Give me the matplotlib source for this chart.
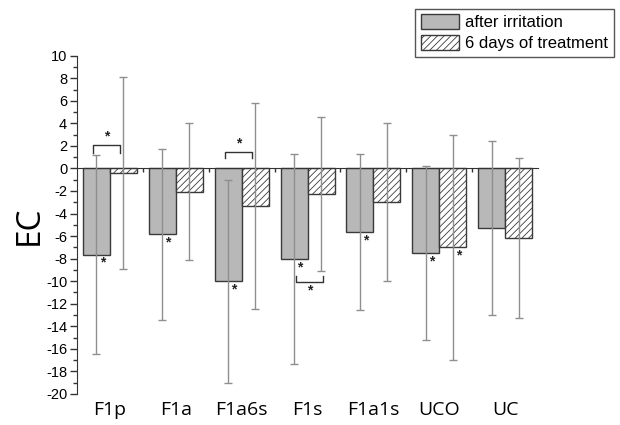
import matplotlib
matplotlib.use('Agg')
import matplotlib.pyplot as plt
import numpy as np

# data
groups = ['F1p', 'F1a', 'F1a6s', 'F1s', 'F1a1s', 'UCO', 'UC']
irritation = [-7.65, -5.85, -10.0, -8.05, -5.65, -7.5, -5.3]
irritation_err = [8.8, 7.6, 9.0, 9.3, 6.9, 7.75, 7.7]
treatment = [-0.4, -2.05, -3.35, -2.25, -2.95, -7.0, -6.2]
treatment_err = [8.5, 6.05, 9.15, 6.85, 7.0, 10.0, 7.1]
legend_labels = ['after irritation', '6 days of treatment']

# asterisks under single bars (group index, series 0 = irritation, 1 = treatment)
stars = [(0, 0), (1, 0), (2, 0), (3, 0), (4, 0), (5, 0), (5, 1)]
# brackets between the two bars: group index, bracket level, leg end
brackets = [(0, 2.1, 1.4), (2, 1.5, 0.9), (3, -10.1, -9.5)]

plt.rcParams['font.family'] = ['Liberation Sans', 'DejaVu Sans']
plt.rcParams['axes.unicode_minus'] = False
plt.rcParams['hatch.linewidth'] = 0.6
plt.rcParams['hatch.color'] = '#555555'

fig = plt.figure(figsize=(6.2, 4.25), dpi=100)
ax = fig.add_axes([0.124, 0.073, 0.744, 0.796])

x = np.arange(len(groups))
w = 0.41
edge = '#3a3a3a'
ax.bar(x - w / 2, irritation, w, color='#b8b8b8', edgecolor=edge, linewidth=1.0,
       label=legend_labels[0], zorder=2)
ax.bar(x + w / 2, treatment, w, color='white', edgecolor=edge, linewidth=1.0,
       hatch='/////', label=legend_labels[1], zorder=2)
ax.errorbar(x - w / 2, irritation, yerr=irritation_err, fmt='none', ecolor='#8f8f8f',
            elinewidth=1.0, capsize=3, capthick=1.0, zorder=3)
ax.errorbar(x + w / 2, treatment, yerr=treatment_err, fmt='none', ecolor='#8f8f8f',
            elinewidth=1.0, capsize=3, capthick=1.0, zorder=3)

vals = [irritation, treatment]
for g, s in stars:
    xs = x[g] + (-w / 2 if s == 0 else w / 2) + 0.09
    ax.text(xs, vals[s][g] - 0.1, '*', ha='center', va='top', fontsize=10,
            fontweight='bold', color='#222222', zorder=4)

for g, lvl, leg in brackets:
    if lvl > 0:
        x0, x1 = x[g] - 0.25, x[g] + 0.15
        ty, va = lvl + 0.1, 'bottom'
    else:
        x0, x1 = x[g] - 0.17, x[g] + 0.23
        ty, va = lvl - 0.1, 'top'
    ax.plot([x0, x0, x1, x1], [leg, lvl, lvl, leg], color='#333333', lw=1.0, zorder=4)
    ax.text((x0 + x1) / 2, ty, '*', ha='center', va=va, fontsize=10,
            fontweight='bold', color='#222222')

ax.set_xlim(-0.5, len(groups) - 0.5)
ax.set_ylim(-20, 10)
ax.set_yticks(np.arange(-20, 11, 2))
ax.set_yticks(np.arange(-20, 11, 1), minor=True)
ax.tick_params(axis='y', which='major', direction='out', length=5, width=1,
               color='#333333', labelsize=10.5, pad=2)
ax.tick_params(axis='y', which='minor', direction='out', length=3, width=1,
               color='#333333')
for side in ['top', 'right']:
    ax.spines[side].set_visible(False)
ax.spines['left'].set_color('#333333')
ax.spines['bottom'].set_position(('data', 0))
ax.spines['bottom'].set_color('#333333')
ax.set_xticks([])
ax.set_xticks(x[:-1] + 0.5, minor=True)
ax.tick_params(axis='x', which='minor', direction='out', length=3, width=1,
               color='#333333', labelbottom=False)

sec = ax.secondary_xaxis(0.0)
sec.set_xticks(x, groups, family=['Open Sans', 'DejaVu Sans'], fontsize=14)
sec.tick_params(length=0, pad=5)
sec.spines['bottom'].set_visible(False)

ax.set_ylabel('EC', fontsize=24, family=['Open Sans', 'DejaVu Sans'], labelpad=0)

leg = fig.legend(loc='upper right', bbox_to_anchor=(0.99, 0.98), fontsize=12,
                 fancybox=False, edgecolor='#555555', framealpha=1,
                 handlelength=2.3, handleheight=0.95, labelspacing=0.3,
                 handletextpad=0.35, borderpad=0.35, borderaxespad=0)
leg.get_frame().set_linewidth(1.0)

fig.savefig('out.png', dpi=100)
